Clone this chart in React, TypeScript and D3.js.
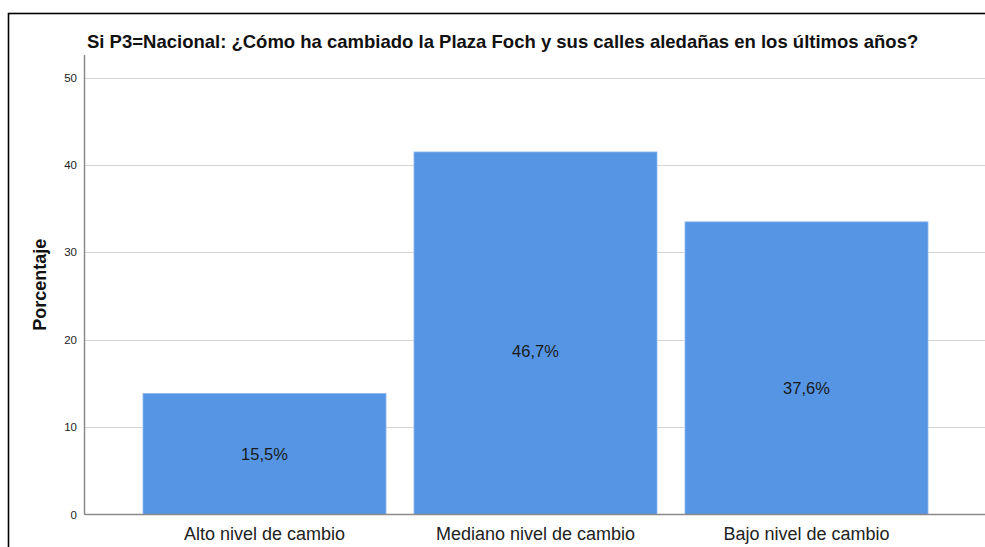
import React from 'react';
import * as d3 from 'd3';

const categories = ['Alto nivel de cambio', 'Mediano nivel de cambio', 'Bajo nivel de cambio'];
const barValues = [13.85, 41.5, 33.5];
const valueLabels = ['15,5%', '46,7%', '37,6%'];
const labelAt = [6.9, 18.7, 14.5];
const yTicks = [0, 10, 20, 30, 40, 50];

const W = 985;
const H = 547;
const FONT = '"Liberation Sans", Arial, sans-serif';

const App = () => {
  const x = d3.scaleBand().domain(categories).range([143, 928]).paddingInner(0.1033).paddingOuter(0);
  const y = d3.scaleLinear().domain([0, 52.6]).range([514.5, 55]);
  const axisX = 84.5;

  return (
    <svg width={W} height={H} style={{ position: 'absolute', left: 0, top: 0 }}>
      <rect x={0} y={0} width={W} height={H} fill="#fff" />
      <rect x={8.5} y={13.5} width={W + 20} height={H + 20} fill="none" stroke="#000" strokeWidth={1.6} />

      <text x={87} y={48} fontFamily={FONT} fontSize={18.5} fontWeight="bold" fill="#111">
        Si P3=Nacional: ¿Cómo ha cambiado la Plaza Foch y sus calles aledañas en los últimos años?
      </text>

      {/* grid */}
      {yTicks.filter((t) => t > 0).map((t) => (
        <line key={t} x1={axisX} x2={W} y1={Math.round(y(t)) + 0.5} y2={Math.round(y(t)) + 0.5} stroke="#d6d6d6" strokeWidth={1.2} />
      ))}

      {/* bars */}
      {categories.map((c, i) => (
        <rect
          key={c}
          x={x(c)}
          y={y(barValues[i])}
          width={x.bandwidth()}
          height={y(0) - y(barValues[i])}
          fill="#5595e3"
          stroke="#8cb8ee"
          strokeWidth={0.8}
        />
      ))}

      {categories.map((c, i) => (
        <text
          key={'l' + c}
          x={(x(c) as number) + x.bandwidth() / 2}
          y={y(labelAt[i])}
          dy="0.35em"
          textAnchor="middle"
          fontFamily={FONT}
          fontSize={16.5}
          fill="#1a1a1a"
        >
          {valueLabels[i]}
        </text>
      ))}

      {/* axes */}
      <line x1={axisX} x2={axisX} y1={55} y2={y(0)} stroke="#8a8a8a" strokeWidth={1.5} />
      <line x1={axisX} x2={W} y1={y(0)} y2={y(0)} stroke="#8a8a8a" strokeWidth={1.5} />

      {yTicks.map((t) => (
        <text key={'t' + t} x={77} y={y(t)} dy="0.35em" textAnchor="end" fontFamily={FONT} fontSize={11.5} fill="#222">
          {t}
        </text>
      ))}

      {categories.map((c) => (
        <text
          key={'c' + c}
          x={(x(c) as number) + x.bandwidth() / 2}
          y={540}
          textAnchor="middle"
          fontFamily={FONT}
          fontSize={18}
          fill="#222"
        >
          {c}
        </text>
      ))}

      <text
        transform={`translate(46, ${y(26.3)}) rotate(-90)`}
        textAnchor="middle"
        fontFamily={FONT}
        fontSize={18}
        fontWeight="bold"
        fill="#111"
      >
        Porcentaje
      </text>
    </svg>
  );
};

export default App;
